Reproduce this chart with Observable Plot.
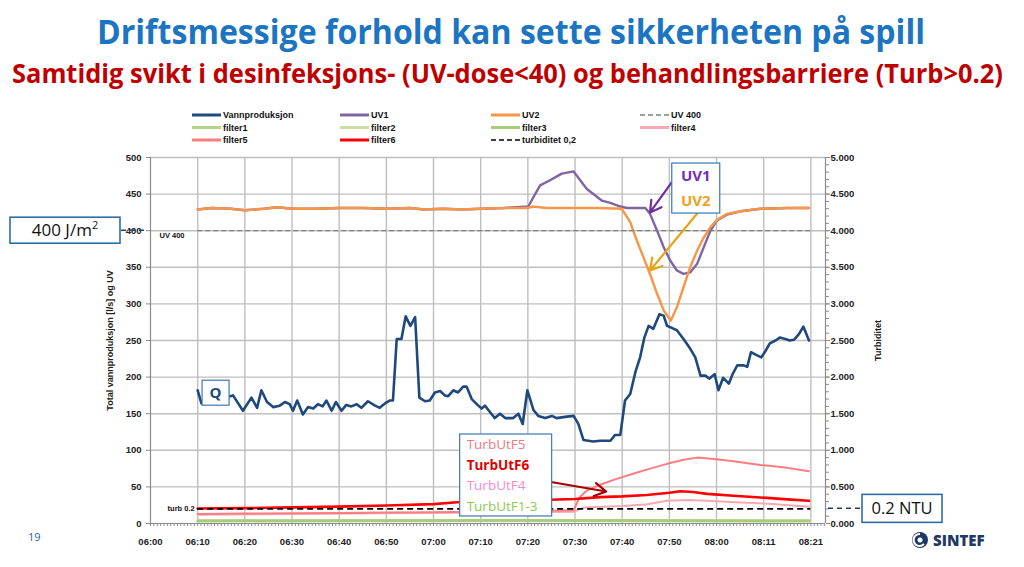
<!DOCTYPE html>
<html><head><meta charset="utf-8">
<script src="https://cdn.jsdelivr.net/npm/d3@7"></script>
<script src="https://cdn.jsdelivr.net/npm/@observablehq/plot@0.6"></script>
<style>
body{margin:0;background:#fff;}
#page{position:relative;width:1024px;height:567px;overflow:hidden;background:#fff;}
.ttl{position:absolute;left:0;white-space:nowrap;font-family:"Open Sans",sans-serif;font-weight:700;line-height:1;}
.ttl span{display:inline-block;transform-origin:left top;}
#t1{top:14px;font-size:34px;color:#1C75C2;}
#t2{top:59px;font-size:27px;color:#C00000;}
#chart{position:absolute;left:0;top:150px;}
#overlay{position:absolute;left:0;top:0;}
</style></head>
<body>
<div id="page">
  <div id="t1" class="ttl"><span>Driftsmessige forhold kan sette sikkerheten på spill</span></div>
  <div id="t2" class="ttl"><span>Samtidig svikt i desinfeksjons- (UV-dose&lt;40) og behandlingsbarriere (Turb&gt;0.2)</span></div>
  <div id="chart"></div>
  <svg id="overlay" width="1024" height="567"></svg>
</div>
<script>
// ---------- DATA ----------
const tickLabels = ["06:00","06:10","06:20","06:30","06:40","06:50","07:00","07:10","07:20","07:30","07:40","07:50","08:00","08:11","08:21"];
const xMax = 143.1;           // end of category axis (minutes after 06:00)
const uvLimit = 400;          // UV 400
const turbLimit = 0.2;        // turbiditet 0,2
const turbToLeft = 500 / 5;   // right axis 5.000 NTU <-> left axis 500

// Vannproduksjon (Q), l/s
const qMinutes = [10,10.8,17.5,19.6,21.4,22.6,23.5,24.7,26.0,27.4,28.5,29.5,30.2,31.1,32.3,33.4,34.5,35.5,36.5,37.3,38.4,39.3,40.5,41.5,42.6,43.7,44.7,46.1,47.6,48.6,49.7,50.7,51.4,52.2,53.2,54.1,55.1,56.1,57.0,58.2,59.2,60.3,61.4,62.4,63.1,64.2,65.2,66.3,67.0,68.1,69.5,70.2,70.9,72.0,73.0,74.1,75.2,76.9,78.0,78.9,79.9,81.2,82.2,83.7,85.1,86.1,88.3,89.7,90.7,91.8,92.8,93.9,95.3,97.5,98.5,99.6,100.6,101.7,102.8,103.8,104.7,105.6,106.6,107.9,108.8,109.5,110.6,111.6,113.0,114.4,115.5,116.6,117.6,118.5,119.6,120.4,121.4,122.6,123.4,124.4,125.8,126.5,127.3,128.5,129.5,130.4,131.3,132.5,133.4,134.6,135.5,136.4,137.5,138.4,139.6];
const qValues = [182,164,175,154,172,158,182,166,159,161,166,163,154,168,149,159,157,163,160,168,154,166,154,162,160,163,158,167,161,158,164,168,168,252,252,283,270,282,172,167,168,179,181,175,174,182,179,187,187,170,161,157,161,152,144,150,144,144,150,136,182,155,147,144,147,144,146,147,136,114,113,112,113,113,121,121,168,177,207,227,254,270,266,286,284,270,267,264,252,239,227,202,202,198,204,182,199,191,204,216,216,214,234,230,227,236,246,250,254,252,250,251,259,269,250];

// UV2
const uv2Minutes = [10,13,17,20,24,27,30,35,40,45,50,55,58,62,66,70,75,80,81,84,90,95,99.9,101.7,103.1,104.5,106.0,107.4,108.8,110.3,111.6,113.0,114.4,115.9,117.3,118.7,120.1,122.2,125.1,129.3,135.0,139.6];
const uv2Values  = [429,431,430,428,430,432,430,430,431,431,430,431,429,430,429,430,431,431,433,431,431,431,430,411.6,386.6,363.8,338.8,313.8,291,277.3,295.5,322.8,350,373,391,404.8,414.8,423,426.6,430,431,431];

// UV1
const uv1Minutes = [10,13,17,20,24,27,30,35,40,45,50,55,58,62,66,70,75,80.1,81.2,82.6,84.7,87.2,89.7,91.1,92.5,94.3,95.7,97.5,99.6,101.0,104.9,105.9,107.4,108.8,110.2,111.6,113.0,114.4,115.9,117.3,118.7,120.1,122.2,125.1,129.3,135.0,139.6];
const uv1Values  = [429,431,430,428,430,432,430,430,431,431,430,431,429,430,429,430,431,433,446,462,469,478,481,469,457,448,441,438,433,431,431,423,400,377.5,359,345.6,341,343,355,377.5,400,414,422,426.6,430,431,431];

// Turbidity (NTU), right axis
const f6Minutes = [10,20,30,40,50,60,65,70,80,84.7,90,95.3,100,105.2,110,112.3,115,118,123.6,130.7,135,139.6];
const f6Values  = [0.205,0.21,0.22,0.23,0.245,0.265,0.29,0.30,0.315,0.324,0.335,0.36,0.37,0.39,0.42,0.44,0.43,0.405,0.38,0.35,0.33,0.31];
const f5Minutes = [10,20,30,40,50,60,70,80,89.7,91,92.5,95.3,98.8,102.3,105.9,109.5,113,115.9,119.4,123.6,129.3,135,139.6];
const f5Values  = [0.13,0.135,0.14,0.145,0.15,0.155,0.16,0.17,0.18,0.36,0.45,0.53,0.61,0.68,0.75,0.815,0.87,0.90,0.88,0.85,0.80,0.76,0.715];
const f4Minutes = [10,30,50,70,89.7,92,100,105,109.5,114,118,124,131,139.6];
const f4Values  = [0.12,0.13,0.14,0.15,0.16,0.22,0.24,0.26,0.31,0.32,0.31,0.29,0.27,0.23];
const f1Minutes = [10,60,100,139.6];
const f1Values  = [0.04,0.045,0.045,0.04];
const f2Minutes = [10,70,139.6];
const f2Values  = [0.03,0.035,0.03];
const f3Minutes = [10,80,139.6];
const f3Values  = [0.035,0.04,0.035];

// legend
const legendNames  = ["Vannproduksjon","UV1","UV2","UV 400","filter1","filter2","filter3","filter4","filter5","filter6","turbiditet 0,2"];
const legendColors = ["#1F497D","#8064A2","#F79646","#808080","#B5D18A","#C9DDA5","#A9CC7C","#F7A8B0","#FF7C80","#FF0000","#000000"];
const legendDashed = [false,false,false,true,false,false,false,false,false,false,true];

// annotations (data-space anchors)
const arrows = [
  {x1:110.6, y1:467, x2:105.9, y2:425, color:"#7030A0"},
  {x1:115.9, y1:423.5, x2:105.9, y2:345.6, color:"#E8A317"},
  {x1:84.3, y1:57.4, x2:96.6, y2:43.7, color:"#A50000"}
];
const boxes = [
  {m:13.9, v:178, w:27, h:25, lines:[{t:"Q", c:"#1F497D", fw:700, fs:15, a:"middle"}]},
  {m:115.7, v:457.6, w:48, h:50, lines:[{t:"UV1", c:"#7030C0", fw:700, fs:15, a:"middle"},{t:"UV2", c:"#F0A020", fw:700, fs:15, a:"middle"}]},
  {m:75.4, v:65.6, w:92, h:82, lines:[{t:"TurbUtF5", c:"#F4777F", fw:400, fs:13.5, a:"start"},{t:"TurbUtF6", c:"#E00000", fw:700, fs:13.5, a:"start"},{t:"TurbUtF4", c:"#F78AC8", fw:400, fs:13.5, a:"start"},{t:"TurbUtF1-3", c:"#8DC94F", fw:400, fs:13.5, a:"start"}]}
];

// ---------- BUILD ----------
const toRows = (ms, vs, k = 1) => ms.map((m, i) => ({m, v: vs[i] * k}));
const q   = toRows(qMinutes, qValues);
const uv1 = toRows(uv1Minutes, uv1Values);
const uv2 = toRows(uv2Minutes, uv2Values);
const f1 = toRows(f1Minutes, f1Values, turbToLeft);
const f2 = toRows(f2Minutes, f2Values, turbToLeft);
const f3 = toRows(f3Minutes, f3Values, turbToLeft);
const f4 = toRows(f4Minutes, f4Values, turbToLeft);
const f5 = toRows(f5Minutes, f5Values, turbToLeft);
const f6 = toRows(f6Minutes, f6Values, turbToLeft);
const refStart = qMinutes[0], refEnd = qMinutes[qMinutes.length - 1] + 0.4;

const lineOpts = (color, w) => ({x: "m", y: "v", stroke: color, strokeWidth: w, strokeLinejoin: "round"});
const axisFont = {fontSize: 9.5, fontWeight: "bold", fill: "#222"};

const chart = Plot.plot({
  width: 1024, height: 417,
  marginLeft: 150, marginRight: 199, marginTop: 7, marginBottom: 44,
  x: {domain: [0, xMax], axis: null},
  y: {domain: [0, 500], axis: null},
  style: {fontFamily: "'Liberation Sans', Arial, sans-serif", background: "transparent", color: "#222"},
  marks: [
    Plot.gridY(d3.range(50, 501, 50), {stroke: "#BFBFBF", strokeOpacity: 1, strokeWidth: 1.4}),
    Plot.gridX(d3.range(10, 141, 10), {stroke: "#BFBFBF", strokeOpacity: 1, strokeWidth: 1.4}),
    Plot.ruleX([0], {stroke: "#8C8C8C", strokeWidth: 1.2}),
    Plot.ruleX([xMax], {stroke: "#8C8C8C", strokeWidth: 1.2}),
    Plot.ruleY([0], {stroke: "#8C8C8C", strokeWidth: 1.2}),
    Plot.axisX(d3.range(0, xMax, 10 / 14), {tickSize: 3, tickFormat: () => "", stroke: "#8C8C8C"}),
    Plot.axisX(d3.range(0, 141, 10), {tickSize: 0, tickPadding: 15, tickFormat: d => tickLabels[Math.round(d / 10)], ...axisFont}),
    Plot.axisY(d3.range(0, 501, 50), {anchor: "left", tickSize: 4, tickPadding: 5, label: null, stroke: "#8C8C8C", ...axisFont}),
    Plot.axisY(d3.range(0, 501, 10), {anchor: "right", tickSize: 3, tickFormat: () => "", label: null, stroke: "#8C8C8C"}),
    Plot.axisY(d3.range(0, 501, 50), {anchor: "right", tickSize: 4, tickPadding: 1, label: null, stroke: "#8C8C8C", tickFormat: d => (d / turbToLeft).toFixed(3), ...axisFont}),
    Plot.text(["Total vannproduksjon [l/s] og UV"], {frameAnchor: "left", textAnchor: "middle", rotate: -90, dx: -40, fontSize: 9, fontWeight: "bold", fill: "#222"}),
    Plot.text(["Turbiditet"], {frameAnchor: "right", textAnchor: "middle", rotate: -90, dx: 53, fontSize: 9, fontWeight: "bold", fill: "#222"}),
    // series (Excel order)
    Plot.line(q, lineOpts("#1F497D", 2.6)),
    Plot.line(uv1, lineOpts("#8064A2", 2.4)),
    Plot.line(uv2, lineOpts("#F79646", 2.4)),
    Plot.ruleY([uvLimit], {x1: refStart, x2: refEnd, stroke: "#808080", strokeWidth: 1.3, strokeDasharray: "5,3"}),
    Plot.line(f1, lineOpts("#B5D18A", 2.5)),
    Plot.line(f2, lineOpts("#C9DDA5", 2.5)),
    Plot.line(f3, lineOpts("#A9CC7C", 2.5)),
    Plot.line(f4, lineOpts("#F7A8B0", 2)),
    Plot.line(f5, lineOpts("#FF7C80", 2)),
    Plot.line(f6, lineOpts("#FF0000", 2.6)),
    Plot.ruleY([turbLimit * turbToLeft], {x1: refStart, x2: refEnd, stroke: "#000", strokeWidth: 1.8, strokeDasharray: "6,4"}),
    Plot.text([uvLimit], {x: 0, y: d => d, text: () => "UV 400", dx: 9, dy: 5, textAnchor: "start", fontSize: 7.5, fontWeight: "bold", fill: "#111"}),
    Plot.text([turbLimit * turbToLeft], {x: refStart, y: d => d, text: () => "turb 0.2", dx: -3, textAnchor: "end", fontSize: 7.5, fontWeight: "bold", fill: "#111"}),
    Plot.arrow(arrows, {x1: "x1", y1: "y1", x2: "x2", y2: "y2", stroke: "color", strokeWidth: 2.2, headLength: 9})
  ]
});
document.getElementById("chart").appendChild(chart);

// ---------- OVERLAY ----------
const plotTop = 150;
const sx = chart.scale("x"), sy = chart.scale("y");
const X = v => sx.apply(v), Y = v => sy.apply(v) + plotTop;
const ov = d3.select("#overlay");

// titles fit
[["#t1 span", 97, 828], ["#t2 span", 12, 991]].forEach(([sel, left, w]) => {
  const el = document.querySelector(sel);
  const cur = el.getBoundingClientRect().width;
  el.parentNode.style.left = left + "px";
  el.style.transform = `scaleX(${w / cur})`;
});

// legend
const colSample = [192, 340, 491, 640], rowY = [115, 127.5, 140];
legendNames.forEach((name, i) => {
  const c = i % 4, r = Math.floor(i / 4);
  const g = ov.append("g");
  g.append("line").attr("x1", colSample[c]).attr("x2", colSample[c] + 29).attr("y1", rowY[r]).attr("y2", rowY[r])
    .attr("stroke", legendColors[i]).attr("stroke-width", legendDashed[i] ? 1.6 : 3)
    .attr("stroke-dasharray", legendDashed[i] ? "5,3" : null);
  g.append("text").attr("x", colSample[c] + 31).attr("y", rowY[r] + 3.3).text(name)
    .attr("font-family", "'Liberation Sans', Arial, sans-serif").attr("font-weight", "bold").attr("font-size", 9).attr("fill", "#111");
});

// boxes inside plot
boxes.forEach(b => {
  const cx = X(b.m), cy = Y(b.v);
  const x0 = cx - b.w / 2, y0 = cy - b.h / 2;
  ov.append("rect").attr("x", x0).attr("y", y0).attr("width", b.w).attr("height", b.h)
    .attr("fill", "#fff").attr("stroke", "#3A78B5").attr("stroke-width", 1.2);
  const step = b.h / b.lines.length;
  b.lines.forEach((l, i) => {
    ov.append("text").attr("x", l.a === "middle" ? cx : x0 + 7).attr("y", y0 + step * (i + 0.5) + l.fs * 0.36)
      .attr("text-anchor", l.a).attr("font-family", "'Open Sans', sans-serif").attr("font-weight", l.fw)
      .attr("font-size", l.fs).attr("fill", l.c).text(l.t);
  });
});

// 400 J/m2 box
const y400 = Y(uvLimit);
ov.append("line").attr("x1", 121).attr("x2", X(0) - 2).attr("y1", y400).attr("y2", y400)
  .attr("stroke", "#1F3F6E").attr("stroke-width", 1.5).attr("stroke-dasharray", "5,4");
ov.append("rect").attr("x", 10).attr("y", y400 - 13).attr("width", 110).attr("height", 26)
  .attr("fill", "#fff").attr("stroke", "#2E6DA8").attr("stroke-width", 1.6);
const t400 = ov.append("text").attr("x", 65).attr("y", y400 + 6).attr("text-anchor", "middle")
  .attr("font-family", "'Open Sans', sans-serif").attr("font-size", 17).attr("fill", "#111");
t400.append("tspan").text("400 J/m");
t400.append("tspan").attr("dy", -7).attr("font-size", 11).text("2");

// 0.2 NTU box
const yT = Y(turbLimit * turbToLeft);
ov.append("line").attr("x1", X(xMax) + 3).attr("x2", 862).attr("y1", yT).attr("y2", yT)
  .attr("stroke", "#1F3F6E").attr("stroke-width", 1.5).attr("stroke-dasharray", "5,4");
ov.append("rect").attr("x", 862).attr("y", yT - 14).attr("width", 80).attr("height", 28)
  .attr("fill", "#fff").attr("stroke", "#2E6DA8").attr("stroke-width", 1.6);
ov.append("text").attr("x", 902).attr("y", yT + 6).attr("text-anchor", "middle")
  .attr("font-family", "'Open Sans', sans-serif").attr("font-size", 16.5).attr("fill", "#111").text("0.2 NTU");

// page number
ov.append("text").attr("x", 28).attr("y", 541).attr("font-family", "'Open Sans', sans-serif")
  .attr("font-size", 11).attr("fill", "#1F5FA0").text("19");

// SINTEF logo
ov.append("circle").attr("cx", 920).attr("cy", 540).attr("r", 8).attr("fill", "#1F3864");
ov.append("path").attr("d", "M920,534 a6,6 0 1,0 4,10").attr("fill", "none").attr("stroke", "#fff").attr("stroke-width", 2);
ov.append("circle").attr("cx", 920).attr("cy", 540).attr("r", 2.5).attr("fill", "#fff");
ov.append("text").attr("x", 933).attr("y", 546).attr("font-family", "'Open Sans', sans-serif").attr("font-weight", 800)
  .attr("font-size", 15).attr("fill", "#1F3864").text("SINTEF");
</script>
</body></html>
